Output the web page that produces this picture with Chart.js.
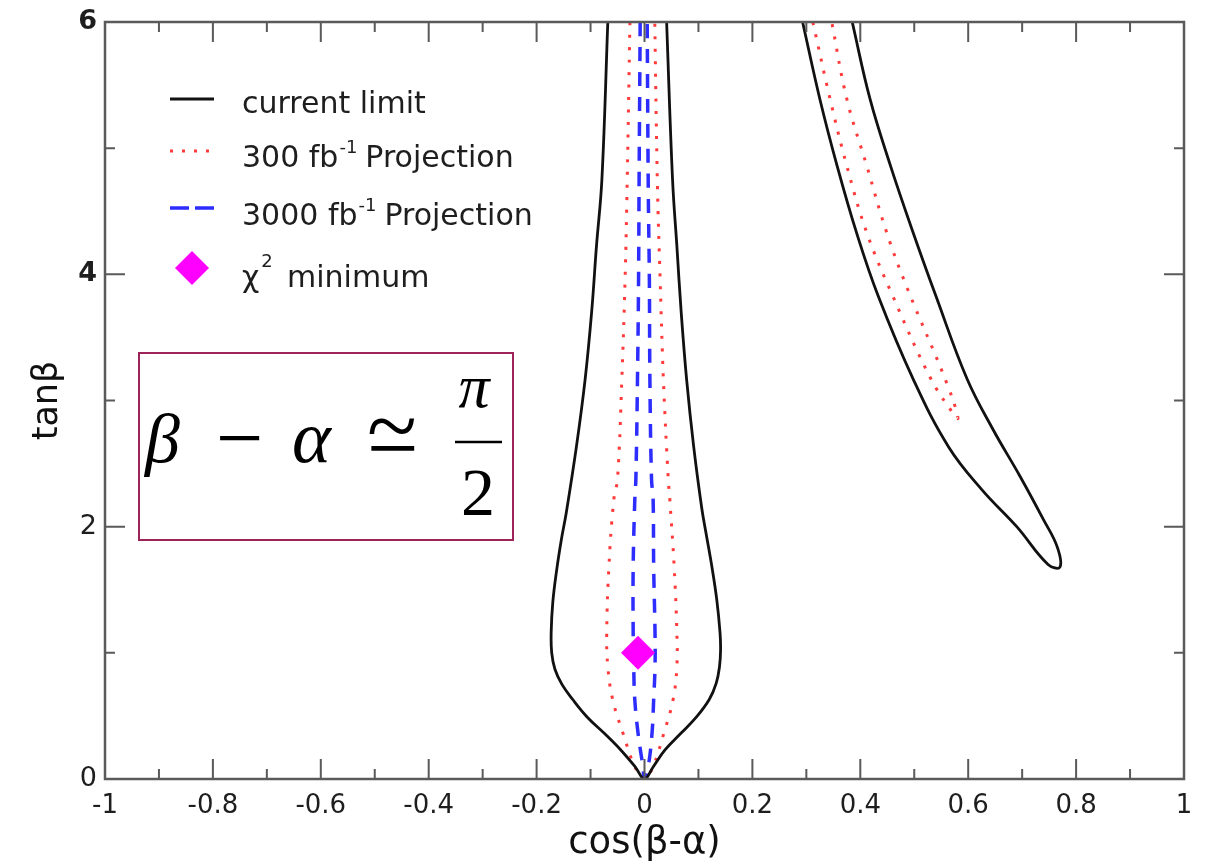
<!DOCTYPE html>
<html>
<head>
<meta charset="utf-8">
<title>tanβ vs cos(β-α)</title>
<script src="https://cdn.jsdelivr.net/npm/chart.js@4.4.1/dist/chart.umd.min.js"></script>
<style>
  html, body { margin: 0; padding: 0; background: #fff; }
  #mycanvas { display: block; }
</style>
</head>
<body>
<canvas id="mycanvas" width="1213" height="862"></canvas>
<script>
// axis ticks
var xTicks = [-1, -0.8, -0.6, -0.4, -0.2, 0, 0.2, 0.4, 0.6, 0.8, 1];
var yTicks = [0, 2, 4, 6];

// current limit, central funnel (left edge top->bottom, then right edge bottom->top)
var limitMainX = [-0.068, -0.079, -0.089, -0.098, -0.110, -0.126, -0.145, -0.154, -0.163, -0.170, -0.173, -0.172, -0.166, -0.153, -0.133, -0.106, -0.074, -0.044, -0.017, 0,
                  0.016, 0.038, 0.067, 0.096, 0.120, 0.133, 0.139, 0.141, 0.140, 0.134, 0.125, 0.114, 0.106, 0.091, 0.078, 0.068, 0.060, 0.052, 0.041];
var limitMainY = [6, 4.75, 4.225, 3.70, 3.17, 2.64, 2.11, 1.90, 1.65, 1.40, 1.16, 1.00, 0.87, 0.75, 0.63, 0.49, 0.36, 0.23, 0.095, 0,
                  0.095, 0.23, 0.36, 0.49, 0.63, 0.76, 0.89, 1.02, 1.16, 1.42, 1.68, 1.95, 2.15, 2.64, 3.17, 3.70, 4.225, 4.75, 6];

// current limit, right-hand band
var limitBandX = [0.293, 0.325, 0.357, 0.393, 0.433, 0.498, 0.564, 0.626, 0.690, 0.748, 0.770,
                  0.765, 0.739, 0.696, 0.646, 0.598, 0.540, 0.498, 0.456, 0.418, 0.385];
var limitBandY = [6, 5.39, 4.86, 4.33, 3.83, 3.17, 2.63, 2.29, 2.0, 1.70, 1.68,
                  1.84, 2.06, 2.40, 2.77, 3.17, 3.83, 4.33, 4.86, 5.39, 6];

// 300 fb^-1 projection, central
var proj300MainX = [-0.027, -0.032, -0.036, -0.042, -0.050, -0.057, -0.066, -0.070, -0.068, -0.059, -0.040, -0.018, 0,
                    0.016, 0.036, 0.053, 0.060, 0.060, 0.055, 0.047, 0.044, 0.035, 0.029, 0.024, 0.019];
var proj300MainY = [6, 4.75, 3.96, 3.17, 2.38, 2.21, 1.68, 1.16, 0.89, 0.63, 0.365, 0.1, 0,
                    0.1, 0.365, 0.63, 0.89, 1.16, 1.68, 2.21, 2.38, 3.17, 3.96, 4.70, 6];

// 300 fb^-1 projection, right-hand band
var proj300BandX = [0.312, 0.344, 0.375, 0.412, 0.460, 0.531, 0.570,
                    0.581, 0.561, 0.488, 0.449, 0.412, 0.375, 0.347];
var proj300BandY = [6, 5.39, 4.86, 4.33, 3.83, 3.17, 2.91,
                    2.86, 3.13, 3.88, 4.33, 4.86, 5.39, 6];

// 3000 fb^-1 projection, central
var proj3000X = [-0.008, -0.010, -0.011, -0.013, -0.016, -0.018, -0.021, -0.021, -0.020, -0.018, -0.012, -0.003, 0,
                 0.007, 0.014, 0.017, 0.0195, 0.0195, 0.017, 0.016, 0.013, 0.010, 0.009, 0.007, 0.005];
var proj3000Y = [6, 4.75, 3.96, 3.17, 2.38, 2.21, 1.68, 1.16, 0.89, 0.63, 0.365, 0.1, 0,
                 0.1, 0.365, 0.63, 0.89, 1.16, 1.68, 2.21, 2.38, 3.17, 3.96, 4.67, 6];

// chi^2 minimum
var chi2MinX = [-0.012];
var chi2MinY = [1.0];

var legendLabels = ['current limit', '300 fb', '3000 fb', 'minimum'];

function toPoints(xs, ys) {
  var pts = [];
  for (var i in xs) {
    pts.push({x: xs[i], y: ys[i]});
  }
  return pts;
}

var BLACK = '#111111';
var RED = '#ff3a3a';
var BLUE = '#2d2dff';
var MAGENTA = '#ff00ff';
var AXIS = '#5a5a5a';
var TEXT = '#1e1e1e';

function lineSet(label, pts, color, width, dash) {
  return {
    label: label,
    data: pts,
    showLine: true,
    borderColor: color,
    borderWidth: width,
    borderDash: dash,
    pointRadius: 0,
    tension: 0.4,
    fill: false
  };
}

// frame round the plot area with inward major/minor ticks on every side
var frameTicks = {
  id: 'frameTicks',
  afterDatasetsDraw: function(chart) {
    var ctx = chart.ctx, a = chart.chartArea;
    var sx = chart.scales.x, sy = chart.scales.y;
    ctx.save();
    ctx.strokeStyle = AXIS;
    ctx.lineWidth = 2;
    ctx.beginPath();
    for (var i = 0; i < xTicks.length; i++) {
      var px = sx.getPixelForValue(xTicks[i]);
      ctx.moveTo(px, a.bottom); ctx.lineTo(px, a.bottom - 20);
      ctx.moveTo(px, a.top); ctx.lineTo(px, a.top + 20);
      if (i < xTicks.length - 1) {
        var mx = sx.getPixelForValue((xTicks[i] + xTicks[i + 1]) / 2);
        ctx.moveTo(mx, a.bottom); ctx.lineTo(mx, a.bottom - 10);
        ctx.moveTo(mx, a.top); ctx.lineTo(mx, a.top + 10);
      }
    }
    for (var j = 0; j < yTicks.length; j++) {
      var py = sy.getPixelForValue(yTicks[j]);
      ctx.moveTo(a.left, py); ctx.lineTo(a.left + 20, py);
      ctx.moveTo(a.right, py); ctx.lineTo(a.right - 20, py);
      if (j < yTicks.length - 1) {
        var my = sy.getPixelForValue((yTicks[j] + yTicks[j + 1]) / 2);
        ctx.moveTo(a.left, my); ctx.lineTo(a.left + 10, my);
        ctx.moveTo(a.right, my); ctx.lineTo(a.right - 10, my);
      }
    }
    ctx.stroke();
    ctx.lineWidth = 2.5;
    ctx.strokeRect(a.left, a.top, a.right - a.left, a.bottom - a.top);
    ctx.restore();
  }
};

// legend in the upper left corner and the boxed relation
var annotations = {
  id: 'annotations',
  afterDraw: function(chart) {
    var ctx = chart.ctx;
    ctx.save();

    // legend samples
    ctx.lineCap = 'butt';
    ctx.strokeStyle = BLACK; ctx.lineWidth = 3; ctx.setLineDash([]);
    ctx.beginPath(); ctx.moveTo(170, 99); ctx.lineTo(214, 99); ctx.stroke();
    ctx.strokeStyle = RED; ctx.lineWidth = 3; ctx.setLineDash([3, 9]);
    ctx.beginPath(); ctx.moveTo(170, 151); ctx.lineTo(214, 151); ctx.stroke();
    ctx.strokeStyle = BLUE; ctx.lineWidth = 3.5; ctx.setLineDash([19, 6]);
    ctx.beginPath(); ctx.moveTo(170, 208); ctx.lineTo(214, 208); ctx.stroke();
    ctx.setLineDash([]);
    ctx.fillStyle = MAGENTA;
    ctx.beginPath();
    ctx.moveTo(192, 251); ctx.lineTo(209, 268); ctx.lineTo(192, 285); ctx.lineTo(175, 268);
    ctx.closePath(); ctx.fill();

    // legend texts
    ctx.fillStyle = TEXT;
    ctx.textBaseline = 'alphabetic';
    ctx.textAlign = 'left';
    var big = '30px "DejaVu Sans"', sup = '18px "DejaVu Sans"';
    ctx.font = big;
    ctx.fillText(legendLabels[0], 242, 113);

    var w, x;
    ctx.fillText(legendLabels[1], 242, 167);
    w = ctx.measureText(legendLabels[1]).width;
    ctx.font = sup; ctx.fillText('-1', 242 + w + 1, 153);
    x = 242 + w + 1 + ctx.measureText('-1').width + 8;
    ctx.font = big; ctx.fillText('Projection', x, 167);

    ctx.fillText(legendLabels[2], 242, 225);
    w = ctx.measureText(legendLabels[2]).width;
    ctx.font = sup; ctx.fillText('-1', 242 + w + 1, 211);
    x = 242 + w + 1 + ctx.measureText('-1').width + 8;
    ctx.font = big; ctx.fillText('Projection', x, 225);

    ctx.fillText('χ', 242, 287);
    w = ctx.measureText('χ').width;
    ctx.font = sup; ctx.fillText('2', 242 + w + 2, 267);
    ctx.font = big; ctx.fillText(legendLabels[3], 287, 287);

    // boxed relation: beta - alpha ~= pi/2
    ctx.strokeStyle = '#9c2459';
    ctx.lineWidth = 2;
    ctx.strokeRect(139, 353, 374, 187);
    ctx.fillStyle = '#000';
    ctx.font = 'italic 70px "Liberation Serif"';
    ctx.fillText('β', 145, 462);
    ctx.font = '84px "Liberation Serif"';
    ctx.fillText('−', 216, 466);
    ctx.font = 'italic 74px "Liberation Serif"';
    ctx.fillText('α', 292, 462);
    // the "asymptotically equal" sign, tilde over bar
    ctx.font = '92px "Liberation Serif"';
    ctx.fillText('~', 367, 456);
    ctx.fillText('−', 367, 479);
    ctx.font = 'italic 62px "Liberation Serif"';
    ctx.textAlign = 'center';
    ctx.fillText('π', 474, 407);
    ctx.font = '68px "Liberation Serif"';
    ctx.fillText('2', 478, 515);
    ctx.lineWidth = 2.5; ctx.strokeStyle = '#000';
    ctx.beginPath(); ctx.moveTo(455, 442); ctx.lineTo(502, 442); ctx.stroke();

    ctx.restore();
  }
};

function fmt(v) {
  return String(Math.round(v * 10) / 10);
}

var ctx = document.getElementById('mycanvas').getContext('2d');

var chart = new Chart(ctx, {
  type: 'scatter',
  data: {
    datasets: [
      {
        label: 'χ2 minimum',
        data: toPoints(chi2MinX, chi2MinY),
        pointStyle: 'rectRot',
        pointRadius: 17,
        borderWidth: 0,
        backgroundColor: MAGENTA,
        borderColor: MAGENTA
      },
      lineSet('current limit', toPoints(limitMainX, limitMainY), BLACK, 2.8, []),
      lineSet('current limit', toPoints(limitBandX, limitBandY), BLACK, 2.8, []),
      lineSet('300 fb-1 Projection', toPoints(proj300MainX, proj300MainY), RED, 3, [3, 9.5]),
      lineSet('300 fb-1 Projection', toPoints(proj300BandX, proj300BandY), RED, 3, [3, 9.5]),
      lineSet('3000 fb-1 Projection', toPoints(proj3000X, proj3000Y), BLUE, 3.5, [14, 11])
    ]
  },
  options: {
    responsive: false,
    animation: false,
    events: [],
    layout: { padding: { top: 22, right: 29, left: 0, bottom: 0 } },
    plugins: {
      legend: { display: false },
      tooltip: { enabled: false }
    },
    scales: {
      x: {
        type: 'linear',
        min: -1,
        max: 1,
        grid: { display: false, drawTicks: false, tickLength: 0 },
        border: { display: false },
        afterBuildTicks: function(s) { s.ticks = xTicks.map(function(v) { return {value: v}; }); },
        afterFit: function(s) { s.height = 83; s.paddingLeft = 0; s.paddingRight = 0; },
        ticks: {
          autoSkip: false,
          maxRotation: 0,
          padding: 12,
          color: TEXT,
          font: { family: 'DejaVu Sans', size: 26 },
          callback: function(v) { return fmt(v); }
        },
        title: {
          display: true,
          text: 'cos(β-α)',
          color: '#111',
          font: { family: 'DejaVu Sans', size: 37, lineHeight: 1 },
          padding: { top: 0, bottom: 0 }
        }
      },
      y: {
        type: 'linear',
        min: 0,
        max: 6,
        grid: { display: false, drawTicks: false, tickLength: 0 },
        border: { display: false },
        afterBuildTicks: function(s) { s.ticks = yTicks.map(function(v) { return {value: v}; }); },
        afterFit: function(s) { s.width = 105; s.paddingTop = 0; s.paddingBottom = 0; },
        ticks: {
          padding: 8,
          color: TEXT,
          font: function(c) {
            var v = c.tick ? c.tick.value : 0;
            return { family: 'DejaVu Sans', size: 27, weight: v >= 4 ? 'bold' : 'normal' };
          },
          callback: function(v) { return fmt(v); }
        },
        title: {
          display: true,
          text: 'tanβ',
          color: '#111',
          font: { family: 'DejaVu Sans', size: 35, lineHeight: 1 },
          padding: { top: 30, bottom: 0 }
        }
      }
    }
  },
  plugins: [frameTicks, annotations]
});
</script>
</body>
</html>
